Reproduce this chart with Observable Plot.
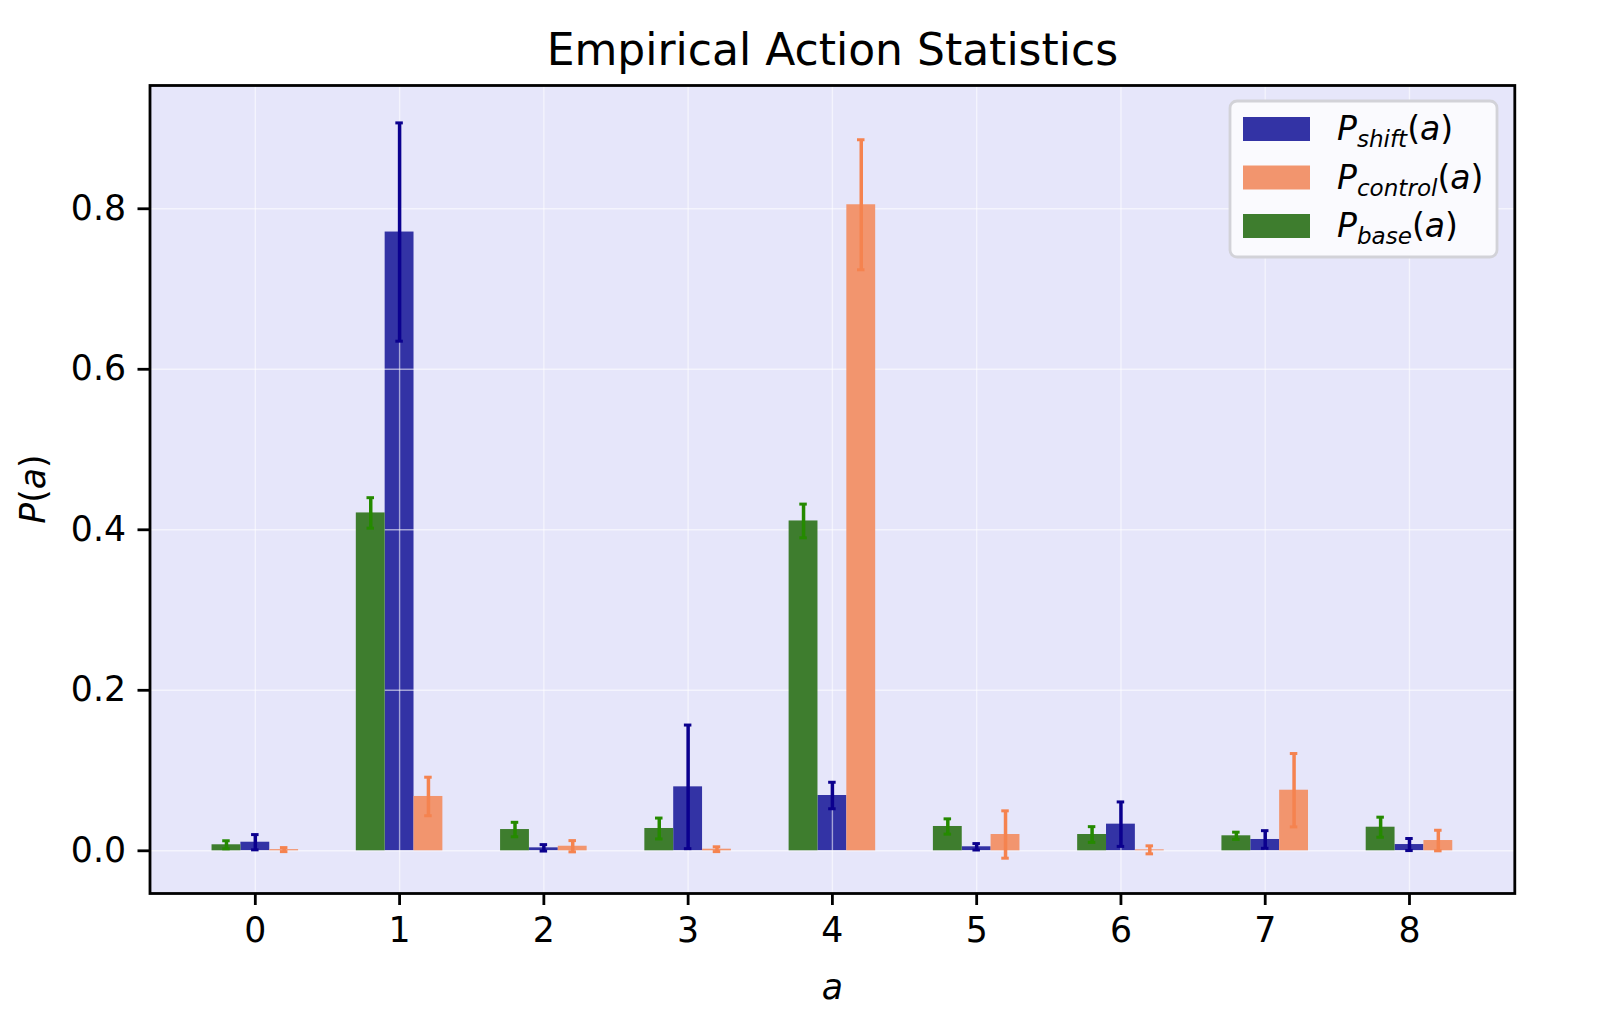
<!DOCTYPE html>
<html>
<head>
<meta charset="utf-8">
<script src="https://cdn.jsdelivr.net/npm/d3@7"></script>
<script src="https://cdn.jsdelivr.net/npm/@observablehq/plot@0.6"></script>
<style>
  html, body { margin: 0; padding: 0; background: white; }
  svg { display: block; }
</style>
</head>
<body>
<div id="chart"></div>
<script>
// ---- data ----
const categories = [0, 1, 2, 3, 4, 5, 6, 7, 8];
const shift      = [0.0107, 0.771, 0.0037, 0.0797, 0.0689, 0.0050, 0.0332, 0.0141, 0.0078];
const shiftErr   = [0.0095, 0.136, 0.0040, 0.0770, 0.0165, 0.0040, 0.0277, 0.0110, 0.0075];
const control    = [0.0015, 0.0677, 0.0057, 0.0020, 0.805, 0.0203, 0.0012, 0.0755, 0.0128];
const controlErr = [0.0025, 0.0240, 0.0070, 0.0030, 0.081, 0.0295, 0.0050, 0.0457, 0.0128];
const base       = [0.0075, 0.421, 0.0265, 0.0278, 0.411, 0.0303, 0.0203, 0.0187, 0.0294];
const baseErr    = [0.0050, 0.019, 0.0090, 0.0130, 0.021, 0.0095, 0.0098, 0.0045, 0.0125];
const yTicks = [0, 0.2, 0.4, 0.6, 0.8];
const seriesLabels = ["shift", "control", "base"];
const titleText = "Empirical Action Statistics";

// ---- style / layout config ----
const W = 1609, H = 1017;
const mL = 149.5, mR = W - 1514.3, mT = 85, mB = H - 893;
const barW = 0.2;
const style = {
  shift:   {fill: "#3333a5", err: "#0b008e", offset: 0},
  control: {fill: "#f2956e", err: "#f5834f", offset: 0.2},
  base:    {fill: "#3e7d2e", err: "#258a00", offset: -0.2}
};
const seriesData = {shift: [shift, shiftErr], control: [control, controlErr], base: [base, baseErr]};

function rowsOf(name) {
  const [vals, errs] = seriesData[name];
  return categories.map((a, i) => ({a, s: name, v: vals[i], e: errs[i], xc: a + style[name].offset}));
}
const R = {shift: rowsOf("shift"), control: rowsOf("control"), base: rowsOf("base")};

function bars(name) {
  return Plot.rect(R[name], {
    x1: d => d.xc - barW / 2, x2: d => d.xc + barW / 2, y1: 0, y2: "v",
    fill: style[name].fill
  });
}
const capHalf = 0.026;
function errs(name) {
  const c = style[name].err;
  return [
    Plot.ruleX(R[name], {x: "xc", y1: d => d.v - d.e, y2: d => d.v + d.e, stroke: c, strokeWidth: 3.5}),
    Plot.ruleY(R[name], {y: d => d.v + d.e, x1: d => d.xc - capHalf, x2: d => d.xc + capHalf, stroke: c, strokeWidth: 3}),
    Plot.ruleY(R[name], {y: d => d.v - d.e, x1: d => d.xc - capHalf, x2: d => d.xc + capHalf, stroke: c, strokeWidth: 3})
  ];
}

const chart = Plot.plot({
  width: W, height: H,
  marginLeft: mL, marginRight: mR, marginTop: mT, marginBottom: mB,
  style: {fontFamily: "'DejaVu Sans', sans-serif", fontSize: "34.7px", background: "white", color: "black", overflow: "visible"},
  x: {type: "linear", domain: [-0.73, 8.73], axis: null, label: null},
  y: {domain: [-0.0532, 0.9536], axis: null, label: null},
  marks: [
    Plot.frame({fill: "#e6e6fa"}),
    bars("shift"),
    Plot.gridX(categories, {stroke: "white", strokeOpacity: 0.55, strokeWidth: 1.4}),
    Plot.gridY(yTicks, {stroke: "white", strokeOpacity: 0.55, strokeWidth: 1.4}),
    bars("base"),
    bars("control"),
    ...errs("base"), ...errs("shift"), ...errs("control"),
    Plot.frame({stroke: "black", strokeWidth: 2.8}),
    Plot.axisX(categories, {label: null, tickSize: 12, tickPadding: 12, strokeWidth: 2.8, tickFormat: d => String(d), fontSize: 34.7}),
    Plot.axisY(yTicks, {label: null, tickSize: 12, tickPadding: 12, strokeWidth: 2.8, tickFormat: d3.format(".1f"), fontSize: 34.7}),
    Plot.text([titleText], {text: d => d, frameAnchor: "top", dy: -21, lineAnchor: "bottom", fontSize: 44}),
    Plot.text(["a"], {text: d => d, frameAnchor: "bottom", dy: 105, lineAnchor: "bottom", fontSize: 34.7, fontStyle: "italic"})
  ]
});
document.getElementById("chart").appendChild(chart);

// ---- y label with mixed italic (mathtext-like) ----
const svg = d3.select(chart);
const yl = svg.append("text")
  .attr("transform", `translate(45,${(mT + H - mB) / 2}) rotate(-90)`)
  .attr("text-anchor", "middle")
  .attr("font-family", "'DejaVu Sans', sans-serif")
  .attr("font-size", 34.7)
  .attr("fill", "black");
yl.append("tspan").attr("font-style", "italic").text("P");
yl.append("tspan").text("(");
yl.append("tspan").attr("font-style", "italic").text("a");
yl.append("tspan").text(")");

// ---- legend ----
const lgX = 1230, lgY = 101, lgW = 267, lgH = 156;
const lg = svg.append("g").attr("font-family", "'DejaVu Sans', sans-serif").attr("text-anchor", "start");
lg.append("rect").attr("x", lgX).attr("y", lgY).attr("width", lgW).attr("height", lgH)
  .attr("rx", 7).attr("fill", "#fafafe").attr("stroke", "#d2d2d8").attr("stroke-width", 2.8);
const fs = 33;
seriesLabels.forEach((name, i) => {
  const cy = 129 + i * 48.5;
  lg.append("rect").attr("x", 1243).attr("y", cy - 12).attr("width", 67).attr("height", 24)
    .attr("fill", style[name].fill);
  const t = lg.append("text").attr("x", 1337).attr("y", cy + 11).attr("font-size", fs)
    .attr("fill", "black").attr("text-anchor", "start");
  t.append("tspan").attr("font-style", "italic").text("P");
  t.append("tspan").attr("font-style", "italic").attr("font-size", fs * 0.7).attr("dy", 7).text(name);
  t.append("tspan").attr("dy", -7).text("(");
  t.append("tspan").attr("font-style", "italic").text("a");
  t.append("tspan").text(")");
});
</script>
</body>
</html>
